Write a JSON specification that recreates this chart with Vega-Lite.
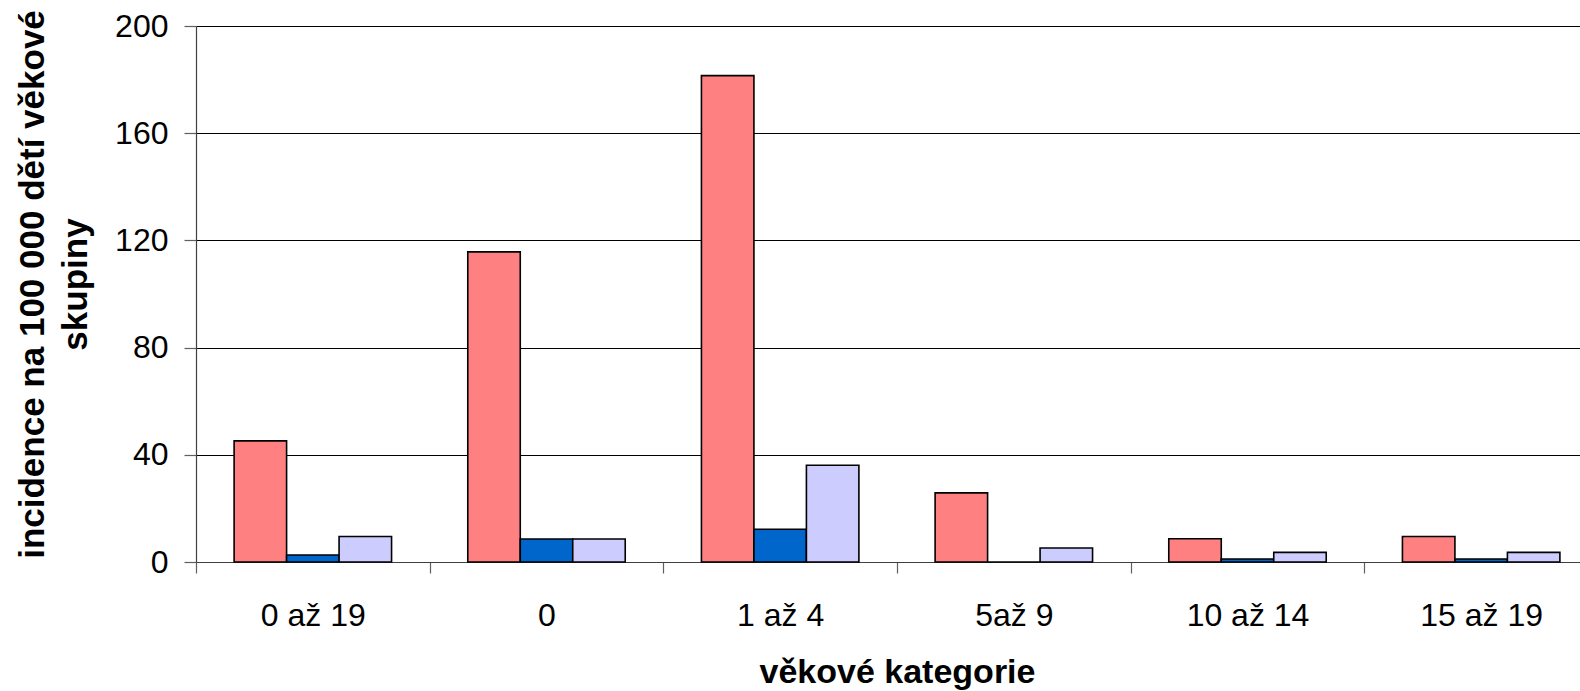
{
  "$schema": "https://vega.github.io/schema/vega-lite/v6.json",
  "width": 1384,
  "height": 536,
  "autosize": "none",
  "padding": {"left": 196, "top": 26, "right": 0, "bottom": 129},
  "background": "white",
  "data": {
    "values": [
      {"kategorie": "0 až 19", "serie": "série 1", "hodnota": 45.2},
      {"kategorie": "0 až 19", "serie": "série 2", "hodnota": 2.6},
      {"kategorie": "0 až 19", "serie": "série 3", "hodnota": 9.5},
      {"kategorie": "0", "serie": "série 1", "hodnota": 115.7},
      {"kategorie": "0", "serie": "série 2", "hodnota": 8.6},
      {"kategorie": "0", "serie": "série 3", "hodnota": 8.6},
      {"kategorie": "1 až 4", "serie": "série 1", "hodnota": 181.5},
      {"kategorie": "1 až 4", "serie": "série 2", "hodnota": 12.2},
      {"kategorie": "1 až 4", "serie": "série 3", "hodnota": 36.1},
      {"kategorie": "5až 9", "serie": "série 1", "hodnota": 25.8},
      {"kategorie": "5až 9", "serie": "série 2", "hodnota": 0},
      {"kategorie": "5až 9", "serie": "série 3", "hodnota": 5.2},
      {"kategorie": "10 až 14", "serie": "série 1", "hodnota": 8.7},
      {"kategorie": "10 až 14", "serie": "série 2", "hodnota": 1.1},
      {"kategorie": "10 až 14", "serie": "série 3", "hodnota": 3.6},
      {"kategorie": "15 až 19", "serie": "série 1", "hodnota": 9.5},
      {"kategorie": "15 až 19", "serie": "série 2", "hodnota": 1.1},
      {"kategorie": "15 až 19", "serie": "série 3", "hodnota": 3.6}
    ]
  },
  "mark": {"type": "bar", "stroke": "black", "strokeWidth": 1.6},
  "encoding": {
    "x": {
      "field": "kategorie",
      "type": "nominal",
      "sort": ["0 až 19", "0", "1 až 4", "5až 9", "10 až 14", "15 až 19"],
      "scale": {"range": [0, 1402], "paddingInner": 0, "paddingOuter": 0},
      "axis": {
        "title": "věkové kategorie",
        "titleFont": "Liberation Sans",
        "titleFontSize": 34,
        "titleFontWeight": "bold",
        "titleColor": "black",
        "titlePadding": 24,
        "labelAngle": 0,
        "labelFont": "Liberation Sans",
        "labelFontSize": 32,
        "labelColor": "black",
        "labelPadding": 27,
        "tickBand": "extent",
        "tickSize": 11,
        "tickColor": "#606060",
        "tickWidth": 1.2,
        "domainColor": "#404040",
        "domainWidth": 1.2,
        "grid": false
      }
    },
    "xOffset": {
      "field": "serie",
      "sort": ["série 1", "série 2", "série 3"],
      "scale": {"paddingInner": 0, "paddingOuter": 0.726}
    },
    "y": {
      "field": "hodnota",
      "type": "quantitative",
      "scale": {"domain": [0, 200], "nice": false},
      "axis": {
        "values": [0, 40, 80, 120, 160, 200],
        "title": ["incidence na 100 000 dětí věkové", "skupiny"],
        "titleFont": "Liberation Sans",
        "titleFontSize": 35,
        "titleFontWeight": "bold",
        "titleColor": "black",
        "titleLineHeight": 43,
        "titlePadding": 21,
        "titleY": 258,
        "labelFont": "Liberation Sans",
        "labelFontSize": 32,
        "labelColor": "black",
        "labelPadding": 16,
        "tickSize": 12,
        "tickColor": "#606060",
        "tickWidth": 1.2,
        "domainColor": "#404040",
        "domainWidth": 1.2,
        "grid": true,
        "gridColor": "black",
        "gridWidth": 1.2
      }
    },
    "color": {
      "field": "serie",
      "type": "nominal",
      "scale": {"domain": ["série 1", "série 2", "série 3"], "range": ["#FF8080", "#0066CC", "#CCCCFF"]},
      "legend": null
    }
  },
  "config": {"view": {"stroke": null}}
}
